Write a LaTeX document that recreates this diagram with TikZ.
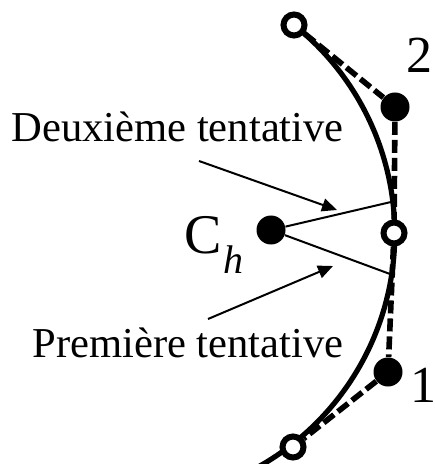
\documentclass[tikz,border=0pt]{standalone}
\usepackage{fontspec}
\setmainfont{Liberation Serif}
\usetikzlibrary{arrows.meta,backgrounds}

\begin{document}
\begin{tikzpicture}[x=0.5pt,y=-0.5pt,
 opendot/.style={circle,draw,fill=white,line width=3pt,minimum size=10.5pt,inner sep=0pt},
 fulldot/.style={circle,fill,minimum size=14.5pt,inner sep=0pt},
 curve/.style={line width=2.6pt},
 guide/.style={line width=2.8pt,dash pattern=on 6.5pt off 2.5pt},
 ray/.style={line width=1pt},
 arr/.style={-{Triangle[length=7.5pt,width=6.5pt]},line width=1pt},
 lbl/.style={inner sep=0pt,font=\fontsize{21.3}{24}\selectfont},
 num/.style={inner sep=0pt,font=\fontsize{26}{30}\selectfont}]
\useasboundingbox (0,0) rectangle (434,464);
% points on the curve
\node[opendot] (ptop) at (294,25) {};
\node[opendot] (pmid) at (394,233) {};
\node[opendot] (pbot) at (293,447) {};
\node[fulldot] (p2) at (395,107) {};
\node[fulldot] (p1) at (388,372) {};
\node[fulldot] (ch) at (271,230) {};
% labels
\node[num,anchor=base west] (n2) at (406,73) {2};
\node[num,anchor=base west] (n1) at (410,402) {1};
\node[inner sep=0pt,anchor=base west,font=\fontsize{28}{30}\selectfont] (chlbl) at (184,253)
 {C\kern1pt\raisebox{-10pt}{\fontsize{20}{20}\selectfont\itshape h}};
\node[lbl,anchor=base west] (deux) at (11,142) {Deuxième tentative};
\node[lbl,anchor=base west] (prem) at (32,357) {Première tentative};
\coordinate (hitup) at (391,202);
\coordinate (hitdn) at (390,274);
\coordinate (deuxfrom) at (199,161);
\coordinate (deuxto) at (337,210);
\coordinate (premfrom) at (208,319);
\coordinate (premto) at (333,266);
\begin{pgfonlayer}{background}
\draw[curve] (ptop.center) arc[start angle=-51.5,end angle=62,radius=267];
\draw[guide] (ptop)--(p2);
\draw[guide] (p2)--(pmid);
\draw[guide] (pmid)--(p1);
\draw[guide] (p1)--(pbot);
\end{pgfonlayer}
\draw[ray] (ch)--(hitup);
\draw[ray] (ch)--(hitdn);
\draw[arr] (deuxfrom)--(deuxto);
\draw[arr] (premfrom)--(premto);
\end{tikzpicture}
\end{document}
